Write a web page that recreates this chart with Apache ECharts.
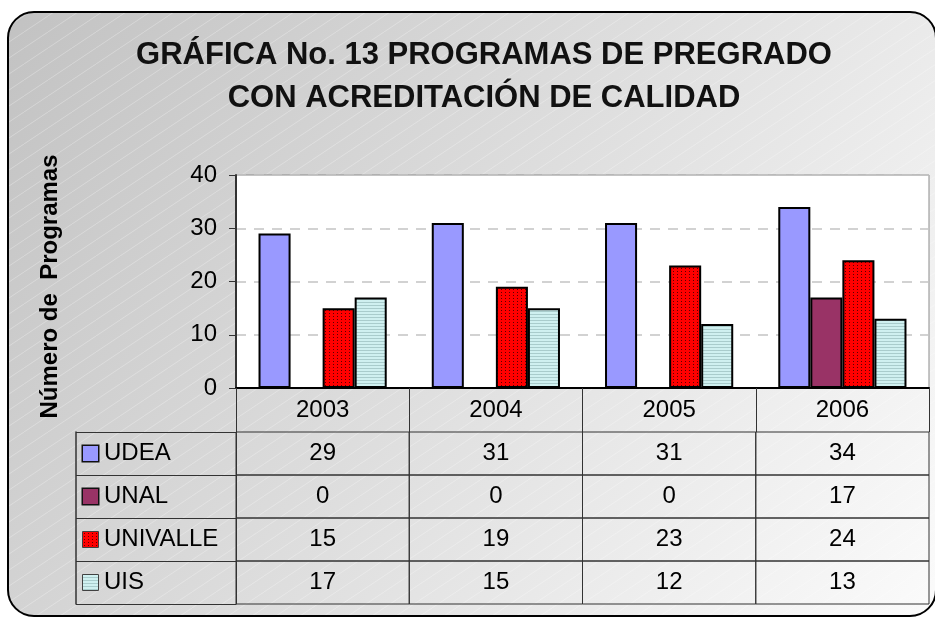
<!DOCTYPE html>
<html>
<head>
<meta charset="utf-8">
<script src="https://cdn.jsdelivr.net/npm/echarts@6/dist/echarts.min.js"></script>
<style>html,body{margin:0;padding:0;background:#fff;}#c{width:935px;height:618px;}</style>
</head>
<body>
<div id="c"></div>
<script>
const years = ['2003', '2004', '2005', '2006'];
const seriesNames = ['UDEA', 'UNAL', 'UNIVALLE', 'UIS'];
const udea = [29, 31, 31, 34];
const unal = [0, 0, 0, 17];
const univalle = [15, 19, 23, 24];
const uis = [17, 15, 12, 13];
const yTicks = { min: 0, max: 40, interval: 10 };
const titleText = 'GRÁFICA No. 13 PROGRAMAS DE PREGRADO\nCON ACREDITACIÓN DE CALIDAD';
const yName = 'Número de  Programas';

const FONT = 'Arial, "Liberation Sans", sans-serif';

function makeCanvas(w, h, draw) {
  const c = document.createElement('canvas');
  c.width = w; c.height = h;
  draw(c.getContext('2d'));
  return c;
}
function dots(ctx, w, h) {
  ctx.fillStyle = '#ff0000'; ctx.fillRect(0, 0, w, h);
  ctx.fillStyle = '#5a0000';
  for (let x = 1; x < w; x += 4) for (let y = 1; y < h; y += 3) ctx.fillRect(x, y, 1, 1);
}
function lines(ctx, w, h) {
  ctx.fillStyle = '#cff0f0'; ctx.fillRect(0, 0, w, h);
  ctx.fillStyle = '#a9cccc';
  for (let y = 2; y < h; y += 3) ctx.fillRect(0, y, w, 1);
}
const dotCanvas = makeCanvas(4, 3, ctx => dots(ctx, 4, 3));
const lineCanvas = makeCanvas(2, 3, ctx => lines(ctx, 2, 3));
const dotBox = makeCanvas(15, 15, ctx => dots(ctx, 15, 15));
const lineBox = makeCanvas(15, 15, ctx => lines(ctx, 15, 15));
const hatchCanvas = makeCanvas(24, 16, ctx => {
  ctx.strokeStyle = 'rgba(255,255,255,0.35)';
  ctx.lineWidth = 0.8;
  ctx.beginPath(); ctx.moveTo(0, 16); ctx.lineTo(24, 0); ctx.stroke();
  ctx.beginPath(); ctx.moveTo(-24, 16); ctx.lineTo(0, 0); ctx.stroke();
  ctx.beginPath(); ctx.moveTo(24, 16); ctx.lineTo(48, 0); ctx.stroke();
});

const colorsFill = ['#9999ff', '#993366', { image: dotCanvas, repeat: 'repeat' }, { image: lineCanvas, repeat: 'repeat' }];
const boxFill = ['#9999ff', '#993366', { image: dotBox }, { image: lineBox }];
const allValues = [udea, unal, univalle, uis];

const tableData = [];
allValues.forEach((arr, si) => arr.forEach((v, yi) => tableData.push([yi, si, v])));

const chart = echarts.init(document.getElementById('c'), null, { renderer: 'canvas' });

const rich = {};
seriesNames.forEach((n, i) => {
  rich['b' + i] = { width: 15, height: 15, backgroundColor: boxFill[i], borderColor: '#111', borderWidth: 1.5 };
});
rich.t = { fontSize: 24, fontFamily: FONT, color: '#000', padding: [0, 0, 0, 6] };

const option = {
  animation: false,
  title: {
    text: titleText,
    left: 479, top: 29, textAlign: 'center',
    textStyle: { fontFamily: FONT, fontWeight: 'bold', fontSize: 31, color: '#111', lineHeight: 43 }
  },
  graphic: [
    { type: 'rect', z: -100, shape: { x: 8, y: 12, width: 928, height: 604, r: 26 },
      style: { fill: new echarts.graphic.LinearGradient(0, 0, 1, 1, [{ offset: 0, color: '#c2c2c2' }, { offset: 1, color: '#fbfbfb' }]), stroke: '#000', lineWidth: 2 } },
    { type: 'rect', z: -99, shape: { x: 9, y: 13, width: 926, height: 602, r: 25 },
      style: { fill: { image: hatchCanvas, repeat: 'repeat' }, stroke: null } }
  ],
  grid: [
    { left: 236, right: 6, top: 175, bottom: 230, show: true, backgroundColor: '#fff', borderColor: '#8a8a8a', borderWidth: 1 },
    { left: 236, right: 6, top: 432, bottom: 14 }
  ],
  xAxis: [
    { type: 'category', gridIndex: 0, data: years,
      axisLine: { lineStyle: { color: '#000', width: 2 } },
      axisTick: { show: true, alignWithLabel: false, length: 44, lineStyle: { color: '#333', width: 1 } },
      axisLabel: { fontSize: 24, fontFamily: FONT, color: '#000', margin: 10 } },
    { type: 'category', gridIndex: 1, data: years, show: false }
  ],
  yAxis: [
    { type: 'value', gridIndex: 0, min: yTicks.min, max: yTicks.max, interval: yTicks.interval,
      name: yName, nameLocation: 'middle', nameGap: 174, nameRotate: 90,
      nameTextStyle: { fontFamily: FONT, fontWeight: 'bold', fontSize: 24, color: '#000', padding: [0, 0, 0, -10] },
      axisLine: { show: true, lineStyle: { color: '#333', width: 2 } },
      axisTick: { show: true, length: 7, lineStyle: { color: '#333', width: 1 } },
      axisLabel: { fontSize: 24, fontFamily: FONT, color: '#000', margin: 19 },
      splitLine: { show: true, lineStyle: { color: '#c4c4c4', type: [10, 8], width: 1.5 } } },
    { type: 'category', gridIndex: 1, data: seriesNames, inverse: true,
      axisLine: { show: true, lineStyle: { color: '#333', width: 1 } },
      axisTick: { show: true, alignWithLabel: false, length: 160, lineStyle: { color: '#333', width: 1 } },
      axisLabel: { align: 'left', margin: 153, formatter: (v, i) => '{b' + i + '|}{t|' + v + '}', rich: rich },
      splitLine: { show: false } },
    { type: 'category', gridIndex: 1, data: seriesNames, inverse: true, position: 'left', offset: 160,
      axisLine: { show: true, lineStyle: { color: '#333', width: 1.5 } },
      axisTick: { show: false }, axisLabel: { show: false } }
  ],
  series: [
    ...seriesNames.map((n, i) => ({
      name: n, type: 'bar', xAxisIndex: 0, yAxisIndex: 0, data: allValues[i],
      barGap: '0%', barCategoryGap: '26%',
      itemStyle: { color: colorsFill[i], borderColor: '#000', borderWidth: 2 }
    })),
    {
      type: 'custom', xAxisIndex: 1, yAxisIndex: 1, data: tableData,
      renderItem: function (params, api) {
        const c = api.coord([api.value(0), api.value(1)]);
        const s = api.size([1, 1]);
        return {
          type: 'group',
          children: [
            { type: 'rect', shape: { x: c[0] - s[0] / 2, y: c[1] - s[1] / 2, width: s[0], height: s[1] },
              style: { fill: 'none', stroke: '#333', lineWidth: 1 } },
            { type: 'text', style: { text: String(api.value(2)), x: c[0], y: c[1], align: 'center', verticalAlign: 'middle',
              font: '24px ' + FONT, fill: '#000' } }
          ]
        };
      }
    }
  ]
};
chart.setOption(option);
</script>
</body>
</html>
